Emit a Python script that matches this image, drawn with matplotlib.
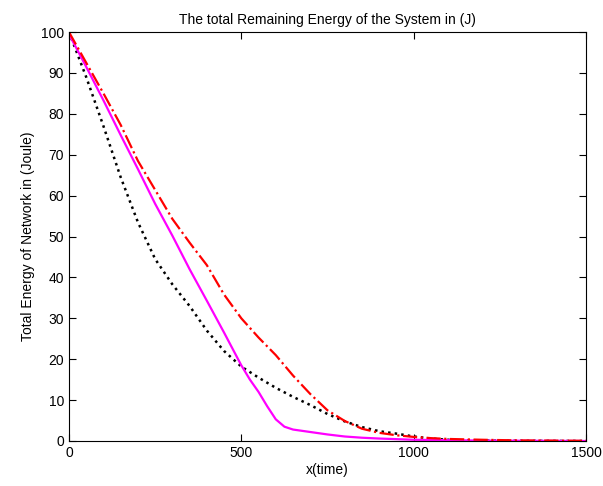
import numpy as np
import matplotlib
matplotlib.use("Agg")
import matplotlib.pyplot as plt

plt.rcParams['font.family'] = ['Liberation Sans', 'DejaVu Sans']

# black dotted curve
x_k = [0, 50, 100, 150, 200, 250, 300, 350, 400, 450, 500, 550, 600, 650, 700,
       750, 800, 850, 900, 950, 1000, 1050, 1100, 1150, 1200, 1300, 1400, 1500]
y_k = [100, 89, 77, 64.5, 53.5, 44.5, 38.3, 33, 27, 22, 18.2, 15.5, 13, 10.8, 8.8,
       6.6, 4.8, 3.4, 2.4, 1.8, 1.1, 0.6, 0.3, 0.15, 0.1, 0.05, 0.02, 0.0]

# magenta solid curve
x_m = [0, 50, 100, 150, 200, 250, 300, 350, 400, 450, 500, 525, 550, 575, 600,
       625, 650, 700, 750, 800, 850, 900, 1000, 1100, 1200, 1500]
y_m = [99.5, 91.5, 83.3, 74.8, 66.5, 58, 50.2, 42, 34.3, 26.5, 18.5, 15, 12, 8.5, 5.3,
       3.5, 2.8, 2.2, 1.6, 1.1, 0.8, 0.6, 0.3, 0.2, 0.1, 0.0]

# red dash-dot curve
x_r = [0, 50, 100, 150, 200, 250, 300, 350, 400, 450, 500, 550, 600, 650, 700,
       750, 800, 850, 900, 950, 1000, 1050, 1100, 1200, 1300, 1400, 1500]
y_r = [100, 92.5, 85, 77.3, 68.5, 61.4, 54.3, 48.5, 43, 35.8, 30, 25.3, 21, 16, 11.5,
       7.5, 4.9, 3, 2, 1.4, 1.0, 0.7, 0.5, 0.3, 0.15, 0.1, 0.05]

fig = plt.figure(figsize=(6.03, 4.86), dpi=100)
ax = fig.add_axes([0.1144, 0.0926, 0.8574, 0.8414])

ax.plot(x_k, y_k, linestyle=':', color='black', linewidth=1.8)
ax.plot(x_m, y_m, linestyle='-', color='magenta', linewidth=1.6)
ax.plot(x_r, y_r, linestyle='-.', color='red', linewidth=1.6)

ax.set_xlim(0, 1500)
ax.set_ylim(0, 100)
ax.set_xticks([0, 500, 1000, 1500])
ax.set_yticks(np.arange(0, 101, 10))
ax.tick_params(direction='in', top=True, right=True, labelsize=10, length=5)

ax.set_title('The total Remaining Energy of the System in (J)', fontsize=10)
ax.set_xlabel('x(time)', fontsize=10, labelpad=2)
ax.set_ylabel('Total Energy of Network in (Joule)', fontsize=10)

fig.savefig('out.png', dpi=100)
